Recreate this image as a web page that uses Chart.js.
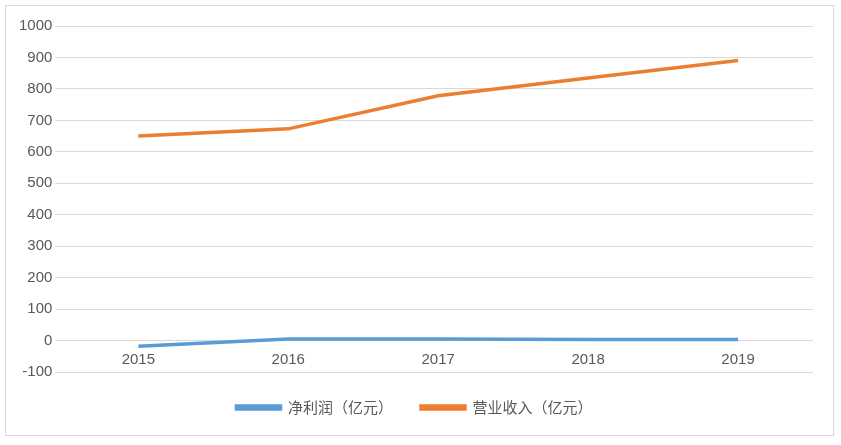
<!DOCTYPE html>
<html><head><meta charset="utf-8">
<script src="https://cdn.jsdelivr.net/npm/chart.js@4"></script>
<style>
html,body{margin:0;padding:0;background:#fff;}
#wrap{position:absolute;left:5px;top:5px;width:829px;height:431px;border:1px solid #d9d9d9;box-sizing:border-box;}
</style></head><body>
<div id="wrap"><canvas id="c"></canvas></div>
<script>
const categories = ['2015','2016','2017','2018','2019'];
const netProfit = [-18, 5, 5, 3, 3];
const revenue = [650, 673, 778, 835, 890];
const seriesNames = ['净利润（亿元）','营业收入（亿元）'];
const font = {family:'"Liberation Sans", "Noto Sans CJK SC", sans-serif', size:15};
const lfont = {family:'"Noto Sans CJK SC", sans-serif', size:15};
new Chart(document.getElementById('c'), {
  type:'line',
  data:{labels:categories, datasets:[
    {label:seriesNames[0], data:netProfit, borderColor:'#5b9bd5', backgroundColor:'#5b9bd5', borderWidth:3.5, pointRadius:0, tension:0},
    {label:seriesNames[1], data:revenue, borderColor:'#ed7d31', backgroundColor:'#ed7d31', borderWidth:3.5, pointRadius:0, tension:0}
  ]},
  options:{
    responsive:true, maintainAspectRatio:false, animation:false,
    layout:{padding:{left:10,right:20,top:20,bottom:10}},
    plugins:{legend:{position:'bottom', labels:{boxWidth:44, boxHeight:3, color:'#595959', font:lfont, padding:28}}, tooltip:{enabled:false}},
    scales:{
      x:{position:{y:0}, offset:true, grid:{display:false}, border:{display:false}, ticks:{color:'#595959', font, padding:2}},
      y:{min:-100, max:1000, ticks:{stepSize:100, color:'#595959', font, callback:v=>String(v)}, grid:{color:'#d9d9d9'}, border:{display:false}}
    }
  }
});
</script></body></html>
